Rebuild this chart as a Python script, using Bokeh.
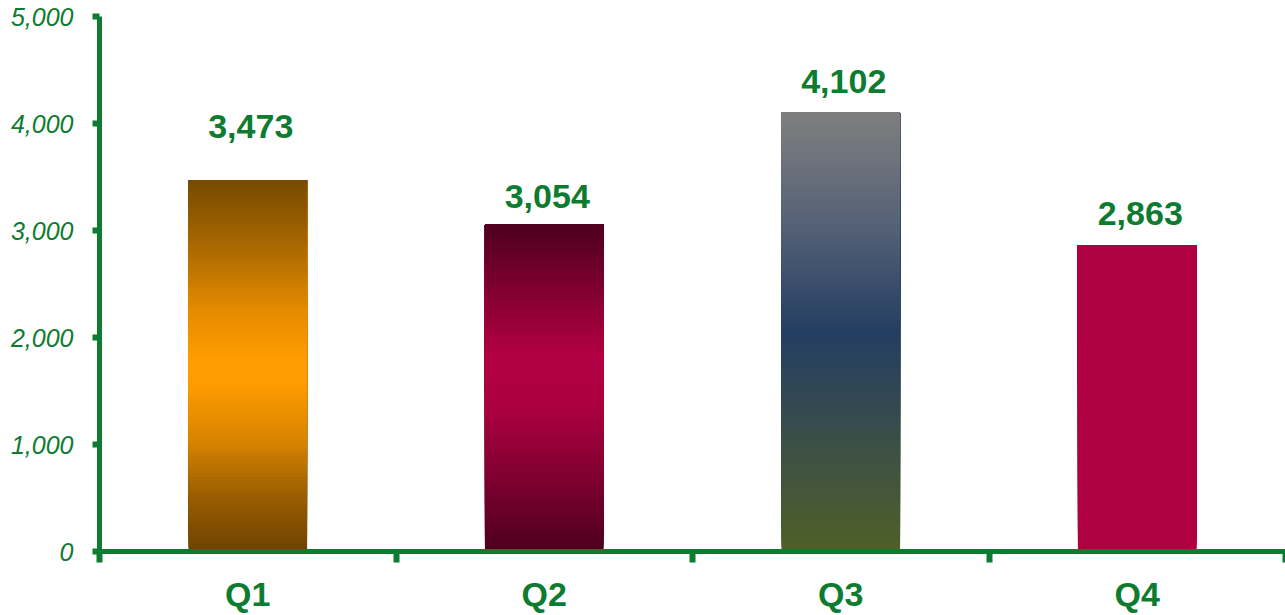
from bokeh.plotting import figure
from bokeh.models import (Range1d, FixedTicker, NumeralTickFormatter, LabelSet,
                          ColumnDataSource)
from bokeh.core.properties import value
from bokeh.embed import file_html
from bokeh.resources import INLINE

# ---------------- data ----------------
categories = ["Q1", "Q2", "Q3", "Q4"]
values = [3473, 3054, 4102, 2863]
value_labels = ["3,473", "3,054", "4,102", "2,863"]
y_ticks = [0, 1000, 2000, 3000, 4000, 5000]

# ---------------- style ----------------
GREEN = "#0e7c30"
FONT = "Liberation Sans"
BAR_WIDTH = 0.40
# vertical gradient stops per bar (fraction of bar height from bottom, colour)
gradients = [
    [(0.0, "#6e4300"), (0.15, "#9a5e00"), (0.30, "#d88400"), (0.45, "#ff9c00"),
     (0.52, "#ff9c00"), (0.65, "#e48b00"), (0.80, "#b06c00"), (1.0, "#754a00")],
    [(0.0, "#4e001e"), (0.20, "#7a002e"), (0.45, "#ad0040"), (0.60, "#b20043"),
     (0.80, "#80002f"), (1.0, "#4e001f")],
    [(0.0, "#4f6028"), (0.25, "#3b4f47"), (0.50, "#243e62"), (0.75, "#566277"),
     (1.0, "#7f7f7f")],
    [(0.0, "#af0042"), (1.0, "#af0042")],
]
label_offsets = [53, 28, 31, 32]   # px above bar top (label centre)
N_STRIPES = 90


def hex_to_rgb(h):
    h = h.lstrip("#")
    return tuple(int(h[i:i + 2], 16) for i in (0, 2, 4))


def interp(stops, f):
    for (f0, c0), (f1, c1) in zip(stops[:-1], stops[1:]):
        if f0 <= f <= f1:
            t = 0 if f1 == f0 else (f - f0) / (f1 - f0)
            a, b = hex_to_rgb(c0), hex_to_rgb(c1)
            return "#%02x%02x%02x" % tuple(round(a[i] + (b[i] - a[i]) * t) for i in range(3))
    return stops[-1][1]


# build gradient stripes from the data values; each stripe runs up to the bar
# top and is drawn over the previous one, so no seams appear between stripes
xs = [i + 0.5 for i in range(len(categories))]
left, right, bottom, top, colors = [], [], [], [], []
for i, v in enumerate(values):
    for k in range(N_STRIPES):
        f0 = k / N_STRIPES
        f1 = (k + 1) / N_STRIPES
        left.append(xs[i] - BAR_WIDTH / 2)
        right.append(xs[i] + BAR_WIDTH / 2)
        bottom.append(v * f0)
        top.append(v)
        colors.append(interp(gradients[i], (f0 + f1) / 2))

stripes = ColumnDataSource(dict(left=left, right=right, bottom=bottom, top=top, color=colors))

p = figure(width=1285, height=615, output_backend="svg", toolbar_location=None,
           x_range=Range1d(0, len(categories)), y_range=Range1d(0, 5000),
           min_border_left=99, min_border_right=0, min_border_top=16, min_border_bottom=63)
p.background_fill_color = "white"
p.border_fill_color = "white"
p.outline_line_color = None
p.xgrid.visible = False
p.ygrid.visible = False

p.quad(left="left", right="right", bottom="bottom", top="top", source=stripes,
       fill_color="color", line_color=None)

# y axis
ya = p.yaxis[0]
ya.ticker = FixedTicker(ticks=y_ticks)
ya.formatter = NumeralTickFormatter(format="0,0")
ya.axis_line_color = GREEN
ya.axis_line_width = 5
ya.major_tick_line_color = GREEN
ya.major_tick_line_width = 6
ya.major_tick_out = 7
ya.major_tick_in = 0
ya.minor_tick_line_color = None
ya.major_label_text_color = GREEN
ya.major_label_text_font = FONT
ya.major_label_text_font_style = "italic"
ya.major_label_text_font_size = "25px"
ya.major_label_standoff = 19

# x axis: category labels at centres, tick marks at category boundaries
xa = p.xaxis[0]
xa.ticker = FixedTicker(ticks=xs, minor_ticks=list(range(len(categories) + 1)))
xa.major_label_overrides = {x: c for x, c in zip(xs, categories)}
xa.axis_line_color = GREEN
xa.axis_line_width = 5
xa.major_tick_line_color = None
xa.major_tick_out = 0
xa.major_tick_in = 0
xa.minor_tick_line_color = GREEN
xa.minor_tick_line_width = 6
xa.minor_tick_out = 11
xa.minor_tick_in = 0
xa.major_label_text_color = GREEN
xa.major_label_text_font = FONT
xa.major_label_text_font_style = "bold"
xa.major_label_text_font_size = "34px"
xa.major_label_standoff = 12

val_src = ColumnDataSource(dict(x=xs, y=values, text=value_labels, off=label_offsets))
p.add_layout(LabelSet(x="x", y="y", text="text", source=val_src, y_offset="off",
                      x_offset=3, text_align="center", text_baseline="middle",
                      text_font=value(FONT), text_font_style="bold", text_font_size="34px",
                      text_color=GREEN))

open("out.html", "w").write(file_html(p, INLINE))
